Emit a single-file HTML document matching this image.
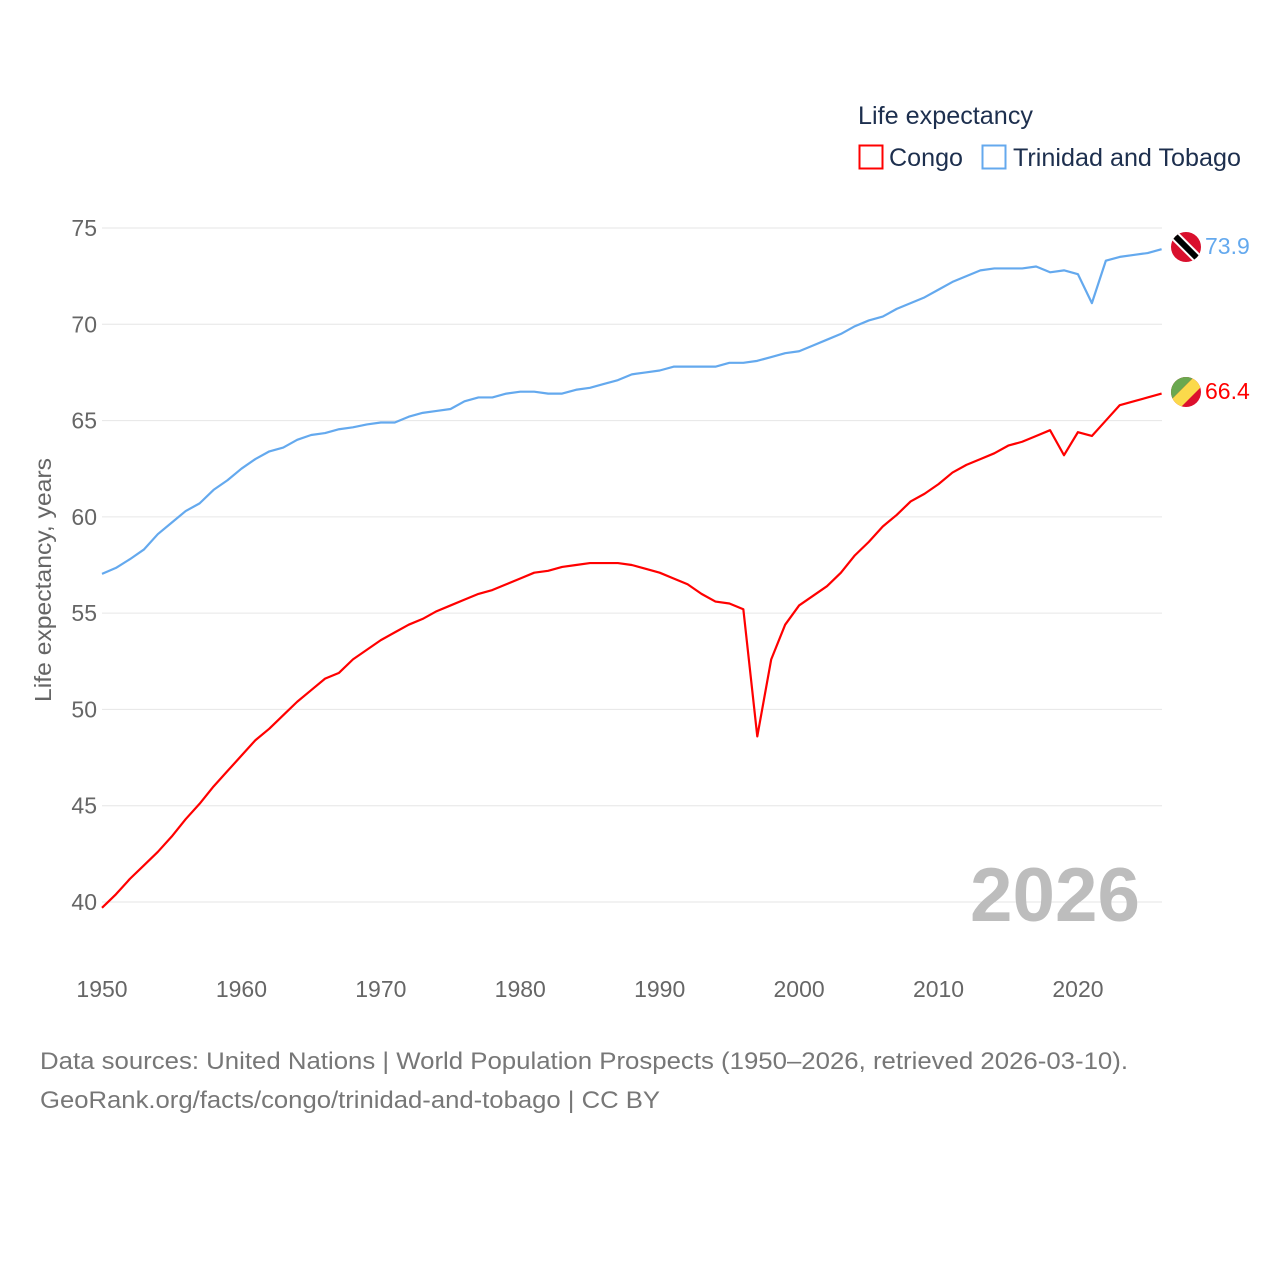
<!DOCTYPE html>
<html><head><meta charset="utf-8"><style>
html,body{margin:0;padding:0;background:#fff;}
svg{display:block;font-family:"Liberation Sans",sans-serif;}
</style></head><body>
<svg id="chart" width="1280" height="1280" viewBox="0 0 1280 1280" xmlns="http://www.w3.org/2000/svg">
<rect width="1280" height="1280" fill="#fff"/>
<g id="grid"></g>
<g id="yticks"></g>
<g id="xticks"></g>
<text transform="translate(51,580) rotate(-90)" text-anchor="middle" font-size="23" fill="#666" textLength="244" lengthAdjust="spacingAndGlyphs">Life expectancy, years</text>
<text x="1140" y="921" text-anchor="end" font-size="76" font-weight="bold" fill="#bdbdbd" textLength="170" lengthAdjust="spacingAndGlyphs">2026</text>
<g id="series"></g>
<g>
<text x="858" y="124" font-size="25" fill="#1d2f4e" textLength="175" lengthAdjust="spacingAndGlyphs">Life expectancy</text>
<g>
<rect x="859.5" y="145.5" width="23" height="23" fill="none" stroke="#ff0000" stroke-width="2"/>
<text x="889" y="166" font-size="25" fill="#1d2f4e" textLength="74" lengthAdjust="spacingAndGlyphs">Congo</text></g>
<g>
<rect x="982.5" y="145.5" width="23" height="23" fill="none" stroke="#64a9ee" stroke-width="2"/>
<text x="1013" y="166" font-size="25" fill="#1d2f4e" textLength="228" lengthAdjust="spacingAndGlyphs">Trinidad and Tobago</text></g>
</g>
<g>
<clipPath id="c1"><circle cx="1186" cy="247" r="15"/></clipPath>
<g clip-path="url(#c1)"><rect x="1170" y="231" width="32" height="32" fill="#d9102d"/>
<line x1="1170" y1="231" x2="1202" y2="263" stroke="#fff" stroke-width="10"/>
<line x1="1170" y1="231" x2="1202" y2="263" stroke="#000" stroke-width="6"/></g></g>
<g>
<clipPath id="c2"><circle cx="1186" cy="392" r="15"/></clipPath>
<g clip-path="url(#c2)"><rect x="1170" y="376" width="32" height="32" fill="#dc0f2d"/>
<polygon points="1170,376 1195,376 1170,401" fill="#6aa84f"/>
<polygon points="1195,376 1204,376 1204,384 1178,410 1170,410 1170,401" fill="#fbd94b"/></g></g>
<text x="1205" y="254" font-size="23" fill="#64a9ee">73.9</text>
<text x="1205" y="399" font-size="23" fill="#ff0000">66.4</text>
<text x="40" y="1069" font-size="24" fill="#777" textLength="1088" lengthAdjust="spacingAndGlyphs">Data sources: United Nations | World Population Prospects (1950–2026, retrieved 2026-03-10).</text>
<text x="40" y="1108" font-size="24" fill="#777" textLength="620" lengthAdjust="spacingAndGlyphs">GeoRank.org/facts/congo/trinidad-and-tobago | CC BY</text>
</svg>
<script>
const years = [];
for (let y = 1950; y <= 2026; y++) years.push(y);
const congo = [39.7,40.4,41.2,41.9,42.6,43.4,44.3,45.1,46.0,46.8,47.6,48.4,49.0,49.7,50.4,51.0,51.6,51.9,52.6,53.1,53.6,54.0,54.4,54.7,55.1,55.4,55.7,56.0,56.2,56.5,56.8,57.1,57.2,57.4,57.5,57.6,57.6,57.6,57.5,57.3,57.1,56.8,56.5,56.0,55.6,55.5,55.2,48.6,52.6,54.4,55.4,55.9,56.4,57.1,58.0,58.7,59.5,60.1,60.8,61.2,61.7,62.3,62.7,63.0,63.3,63.7,63.9,64.2,64.5,63.2,64.4,64.2,65.0,65.8,66.0,66.2,66.4];
const trinidad = [57.04,57.35,57.8,58.3,59.1,59.7,60.3,60.7,61.4,61.9,62.5,63.0,63.4,63.6,64.0,64.25,64.35,64.55,64.65,64.8,64.9,64.9,65.2,65.4,65.5,65.6,66.0,66.2,66.2,66.4,66.5,66.5,66.4,66.4,66.6,66.7,66.9,67.1,67.4,67.5,67.6,67.8,67.8,67.8,67.8,68.0,68.0,68.1,68.3,68.5,68.6,68.9,69.2,69.5,69.9,70.2,70.4,70.8,71.1,71.4,71.8,72.2,72.5,72.8,72.9,72.9,72.9,73.0,72.7,72.8,72.6,71.1,73.3,73.5,73.6,73.7,73.9];
const yTicks = [40,45,50,55,60,65,70,75];
const xTicks = [1950,1960,1970,1980,1990,2000,2010,2020];

const NS = "http://www.w3.org/2000/svg";
function xs(v){ return 102 + (v - 1950) * (1161.6 - 102) / 76; }
function ys(v){ return 228 + (75 - v) * (902 - 228) / 35; }
function mk(tag, attrs, parent){ const e = document.createElementNS(NS, tag); for (const k in attrs) e.setAttribute(k, attrs[k]); parent.appendChild(e); return e; }

const grid = document.getElementById('grid');
const yt = document.getElementById('yticks');
yTicks.forEach(t => {
  const l = mk('line', {x1:102, x2:1162, y1:ys(t), y2:ys(t), stroke:'#e6e6e6', 'stroke-width':1}, grid);
  
  
  const tx = mk('text', {x:97, y:ys(t)+8, 'text-anchor':'end', 'font-size':23, fill:'#666'}, yt);
  tx.textContent = t;
  
  
});
const xt = document.getElementById('xticks');
xTicks.forEach(t => {
  const tx = mk('text', {x:xs(t), y:997, 'text-anchor':'middle', 'font-size':23, fill:'#666'}, xt);
  tx.textContent = t;
  
  
});
const sg = document.getElementById('series');
function line(vals, color, name){
  const d = vals.map((v,i) => (i ? 'L' : 'M') + xs(years[i]).toFixed(2) + ',' + ys(v).toFixed(2)).join('');
  const p = mk('path', {d:d, fill:'none', stroke:color, 'stroke-width':2.2, 'stroke-linejoin':'round'}, sg);
  
  
}
line(trinidad, '#64a9ee', 'line-trinidad-and-tobago');
line(congo, '#ff0000', 'line-congo');
</script>
</body></html>
